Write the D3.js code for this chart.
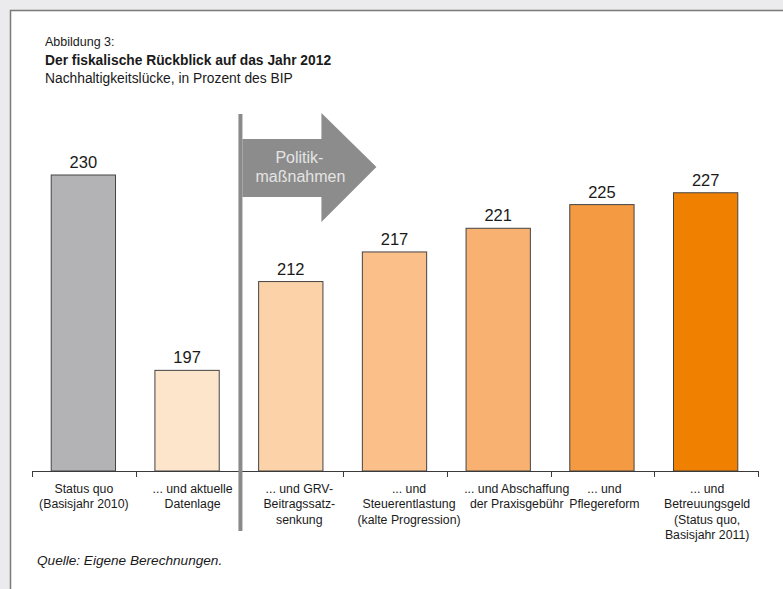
<!DOCTYPE html>
<html>
<head>
<meta charset="utf-8">
<script src="https://cdn.jsdelivr.net/npm/d3@7"></script>
<style>
  body { margin: 0; background: #ebebed; }
  text { font-family: "Liberation Sans", Arial, sans-serif; fill: #1a1a1a; }
</style>
</head>
<body>
<div id="chart"></div>
<script>
// Data
//=================================
var categories = [
  ["Status quo", "(Basisjahr 2010)"],
  ["... und aktuelle", "Datenlage"],
  ["... und GRV-", "Beitragssatz-", "senkung"],
  ["... und", "Steuerentlastung", "(kalte Progression)"],
  ["... und Abschaffung", "der Praxisgebühr"],
  ["... und", "Pflegereform"],
  ["... und", "Betreuungsgeld", "(Status quo,", "Basisjahr 2011)"]
];
var values = [230, 197, 212, 217, 221, 225, 227];
var barColors = ["#b3b3b5", "#fde5cc", "#fcd2a8", "#fbbf89", "#f8b171", "#f49a42", "#f08000"];

var svgWidth = 783;
var svgHeight = 589;

var margin = { top: 114, right: 25, bottom: 118, left: 32 };
var width = svgWidth - margin.left - margin.right;
var height = svgHeight - margin.top - margin.bottom;

// label boxes are nudged a little to the right, as in the original
var labelNudge = [0, 5, 8, 14, 18, 2, 1];

var svg = d3.select("#chart")
  .append("svg")
  .attr("width", svgWidth)
  .attr("height", svgHeight);

// white panel with border
svg.append("rect")
  .attr("x", 10.5)
  .attr("y", 10.5)
  .attr("width", svgWidth)
  .attr("height", svgHeight)
  .attr("fill", "#fff")
  .attr("stroke", "#7a7a7a")
  .attr("stroke-width", 1.5);

// titles
svg.append("text").attr("x", 45).attr("y", 46).attr("font-size", "12.5px").text("Abbildung 3:");
svg.append("text").attr("x", 45).attr("y", 65).attr("font-size", "13.8px").attr("font-weight", "bold")
  .text("Der fiskalische Rückblick auf das Jahr 2012");
svg.append("text").attr("x", 45).attr("y", 83).attr("font-size", "13.8px")
  .text("Nachhaltigkeitslücke, in Prozent des BIP");

var chartGroup = svg.append("g")
  .attr("transform", `translate(${margin.left}, ${margin.top})`);

// scales
var xBandScale = d3.scaleBand()
  .domain(d3.range(values.length))
  .range([0, width])
  .paddingInner(0.38)
  .paddingOuter(0.19);

var yLinearScale = d3.scaleLinear()
  .domain([180, 240])
  .range([height, height - 60 * 5.92]);

// bars
chartGroup.selectAll("rect.bar")
  .data(values)
  .enter()
  .append("rect")
  .classed("bar", true)
  .attr("x", (d, i) => xBandScale(i) - 0.5)
  .attr("y", d => yLinearScale(d))
  .attr("width", xBandScale.bandwidth())
  .attr("height", d => height - yLinearScale(d))
  .attr("fill", (d, i) => barColors[i])
  .attr("stroke", "#444")
  .attr("stroke-width", 1);

// value labels
chartGroup.selectAll("text.val")
  .data(values)
  .enter()
  .append("text")
  .classed("val", true)
  .attr("x", (d, i) => xBandScale(i) + xBandScale.bandwidth() / 2 - 0.5)
  .attr("y", d => yLinearScale(d) - 7)
  .attr("text-anchor", "middle")
  .attr("font-size", "16.5px")
  .text(d => d);

// x axis line with tick marks at category borders
var step = width / values.length;
chartGroup.append("line")
  .attr("x1", 0).attr("x2", width)
  .attr("y1", height + 0.5).attr("y2", height + 0.5)
  .attr("stroke", "#3a3a3a");
chartGroup.selectAll("line.tick")
  .data(d3.range(values.length + 1))
  .enter()
  .append("line")
  .classed("tick", true)
  .attr("x1", d => Math.round(d * step) + 0.5)
  .attr("x2", d => Math.round(d * step) + 0.5)
  .attr("y1", height)
  .attr("y2", height + 6)
  .attr("stroke", "#3a3a3a");

// category labels
var catGroup = chartGroup.selectAll("text.cat")
  .data(categories)
  .enter()
  .append("text")
  .classed("cat", true)
  .attr("text-anchor", "middle")
  .attr("font-size", "12.3px");
catGroup.each(function(lines, i) {
  var t = d3.select(this);
  lines.forEach(function(l, j) {
    t.append("tspan")
      .attr("x", xBandScale(i) + xBandScale.bandwidth() / 2 + labelNudge[i])
      .attr("y", height + 22 + j * 15.4)
      .text(l);
  });
});

// separator and arrow
var sepX = xBandScale(2) - (xBandScale.step() - xBandScale.bandwidth()) / 2 + 1;
chartGroup.append("rect")
  .attr("x", sepX - 2)
  .attr("y", 0)
  .attr("width", 4)
  .attr("height", 417)
  .attr("fill", "#8a8a8a");

var ax = sepX + 2;
chartGroup.append("path")
  .attr("d", `M${ax},25 L${ax + 79},25 L${ax + 79},-1 L${ax + 134},53 L${ax + 79},108 L${ax + 79},83 L${ax},83 Z`)
  .attr("fill", "#8c8c8c");

chartGroup.append("text")
  .attr("x", ax + 57).attr("y", 49)
  .attr("text-anchor", "middle")
  .attr("font-size", "16px")
  .style("fill", "#e4e4e4")
  .text("Politik-");
chartGroup.append("text")
  .attr("x", ax + 58).attr("y", 68)
  .attr("text-anchor", "middle")
  .attr("font-size", "16px")
  .style("fill", "#e4e4e4")
  .text("maßnahmen");

// source
svg.append("text")
  .attr("x", 37).attr("y", 565)
  .attr("font-size", "13.6px")
  .attr("font-style", "italic")
  .text("Quelle: Eigene Berechnungen.");
</script>
</body>
</html>
